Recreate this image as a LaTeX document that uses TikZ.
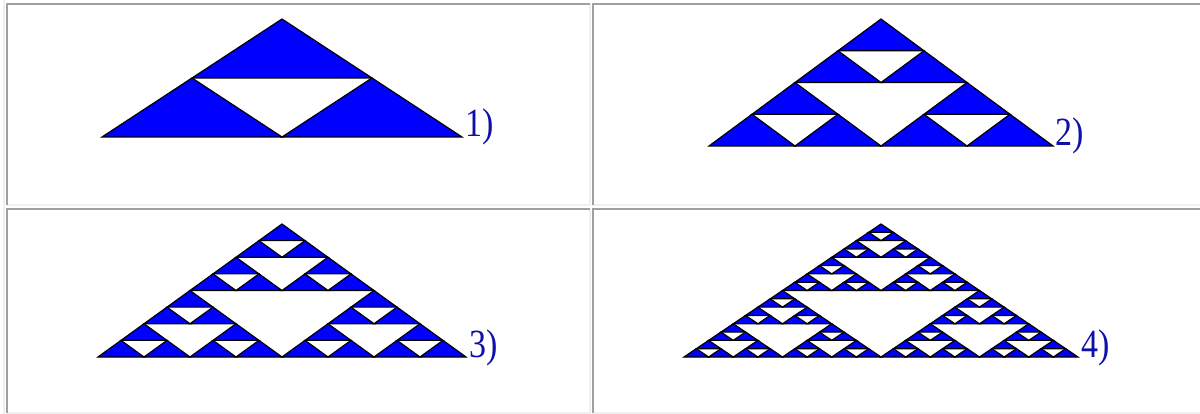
\documentclass[tikz,border=0pt]{standalone}
\usepackage{fontspec}
\setmainfont{Liberation Serif}
\usepackage{graphicx}
\usepackage{tikz}

\definecolor{cellshade}{HTML}{A0A0A0}
\definecolor{celllight}{HTML}{F0F0F0}
\definecolor{labelblue}{HTML}{1010A8}

% one level of the gasket, apex at (0,0), base from (-1,1) to (1,1)
\newcommand{\sierpinski}[1]{%
  \ifnum#1=0
    \path[tri] (0,0) -- (-1,1) -- (1,1) -- cycle;
  \else
    \begin{scope}[scale=0.5]\sierpinski{\numexpr#1-1\relax}\end{scope}
    \begin{scope}[shift={(-0.5,0.5)},scale=0.5]\sierpinski{\numexpr#1-1\relax}\end{scope}
    \begin{scope}[shift={(0.5,0.5)},scale=0.5]\sierpinski{\numexpr#1-1\relax}\end{scope}
  \fi}
\newcommand{\narrowlab}[1]{\scalebox{0.85}[1]{#1}}

\begin{document}
\begin{tikzpicture}[x=1pt,y=-1pt,
  tri/.style={draw=black,fill=blue,line width=1.2pt,line join=miter},
  dark edge/.style={draw=cellshade,line width=2pt},
  light edge/.style={draw=celllight,line width=2pt},
  lab/.style={text=labelblue,inner sep=0pt,anchor=base west,
    font=\fontsize{40}{46}\selectfont}]
\useasboundingbox (0,0) rectangle (1200,414);
% table borders:
\path[light edge] (4,0) -- (4,414);
\foreach \xl/\yt/\xr/\yb in {7/4/590/205, 593/4/1206/205, 7/209/590/413, 593/209/1206/413} {
  \path[light edge] (\xl,\yb) -- (\xr,\yb) -- (\xr,\yt);
  \path[dark edge] (\xl,\yb) -- (\xl,\yt) -- (\xr,\yt);
}
% gaskets:
\begin{scope}[shift={(282,19)},xscale=180,yscale=118]
  \sierpinski{1}
\end{scope}
\begin{scope}[shift={(881,19)},xscale=172,yscale=127]
  \sierpinski{2}
\end{scope}
\begin{scope}[shift={(282,224)},xscale=184,yscale=133]
  \sierpinski{3}
\end{scope}
\begin{scope}[shift={(881,224)},xscale=197,yscale=133]
  \sierpinski{4}
\end{scope}
% labels:
\node[lab] (lab1) at (465,137) {\narrowlab{1)}};
\node[lab] (lab2) at (1055,146) {\narrowlab{2)}};
\node[lab] (lab3) at (469,357) {\narrowlab{3)}};
\node[lab] (lab4) at (1081,357) {\narrowlab{4)}};
\end{tikzpicture}
\end{document}
